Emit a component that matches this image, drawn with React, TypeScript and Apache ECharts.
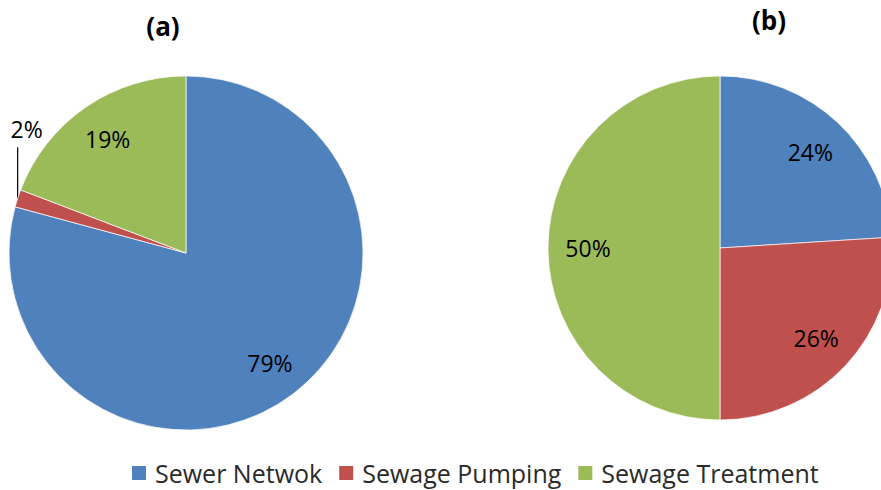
import React, { useEffect, useRef } from "react";
import * as echarts from "echarts";

const categories = ["Sewer Netwok", "Sewage Pumping", "Sewage Treatment"];
const valuesA = [79.2, 1.6, 19.2];
const valuesB = [24, 26, 50];
const colors = ["#4F81BD", "#C0504D", "#9BBB59"];
const titles = ["(a)", "(b)"];

const FONT = "Open Sans";

export default function App() {
  const ref = useRef<HTMLDivElement>(null);
  useEffect(() => {
    if (!ref.current) return;
    const chart = echarts.init(ref.current, null, { renderer: "svg" });
    const mk = (vals: number[]) =>
      categories.map((name, i) => ({ name, value: vals[i] }));
    const pctFmt = (p: any) => Math.round(p.percent) + "%";
    const baseLabel = {
      color: "#000",
      fontFamily: FONT,
      fontSize: 23,
    };
    const mainSeries = (vals: number[], center: number[], r: number, extra: any = {}) => ({
      type: "pie",
      center,
      radius: [0, r],
      startAngle: 90,
      clockwise: true,
      avoidLabelOverlap: false,
      data: mk(vals),
      itemStyle: { borderColor: "#fff", borderWidth: 0.7 },
      label: { show: false },
      labelLine: { show: false },
      emphasis: { disabled: true },
      silent: true,
      ...extra,
    });
    const overlay = (vals: number[], center: number[], r0: number, r: number, hide: number[]) => ({
      type: "pie",
      center,
      radius: [r0, r],
      startAngle: 90,
      clockwise: true,
      avoidLabelOverlap: false,
      silent: true,
      emphasis: { disabled: true },
      itemStyle: { color: "transparent", borderWidth: 0 },
      data: mk(vals).map((d, i) =>
        hide.includes(i) ? { ...d, label: { show: false } } : d
      ),
      label: {
        show: true,
        position: "inside",
        formatter: pctFmt,
        ...baseLabel,
      },
      labelLine: { show: false },
    });

    const seriesA = mainSeries(valuesA, [186, 253], 177, {
      data: mk(valuesA).map((d, i) =>
        i === 1
          ? {
              ...d,
              label: {
                show: true,
                position: "outside",
                formatter: pctFmt,
                ...baseLabel,
              },
              labelLine: { show: true, length: 10, length2: 10, lineStyle: { color: "#000", width: 1.2 } },
            }
          : d
      ),
      labelLayout: (p: any) => {
        if (p.dataIndex !== 1 || !p.labelLinePoints) return {};
        const s = p.labelLinePoints[0];
        const topY = s[1] - 51;
        return {
          x: s[0] + 9,
          y: s[1] - 69,
          align: "center",
          verticalAlign: "middle",
          labelLinePoints: [s, [s[0], topY], [s[0], topY]],
        };
      },
    });

    chart.setOption({
      animation: false,
      color: colors,
      title: [
        { text: titles[0], left: 158, top: 8, textAlign: "center", textStyle: { fontFamily: FONT, fontWeight: "bold", fontSize: 26, color: "#000" } },
        { text: titles[1], left: 764, top: 2, textAlign: "center", textStyle: { fontFamily: FONT, fontWeight: "bold", fontSize: 26, color: "#000" } },
      ],
      legend: {
        data: categories,
        left: 130,
        top: 460,
        padding: 0,
        icon: "rect",
        itemWidth: 16,
        itemHeight: 16,
        itemGap: 15,
        textStyle: { fontFamily: FONT, fontSize: 25, lineHeight: 26, color: "#2a2a2a", padding: [0, 0, 0, 3] },
        selectedMode: false,
      },
      series: [
        seriesA,
        mainSeries(valuesB, [720, 248], 172),
        overlay(valuesA, [186, 253], 93, 177, [1]),
        overlay(valuesB, [720, 248], 86, 172, []),
      ],
    });
    return () => chart.dispose();
  }, []);
  return (
    <div
      ref={ref}
      style={{ position: "fixed", left: 0, top: 0, width: 881, height: 490, background: "#fff" }}
    />
  );
}
